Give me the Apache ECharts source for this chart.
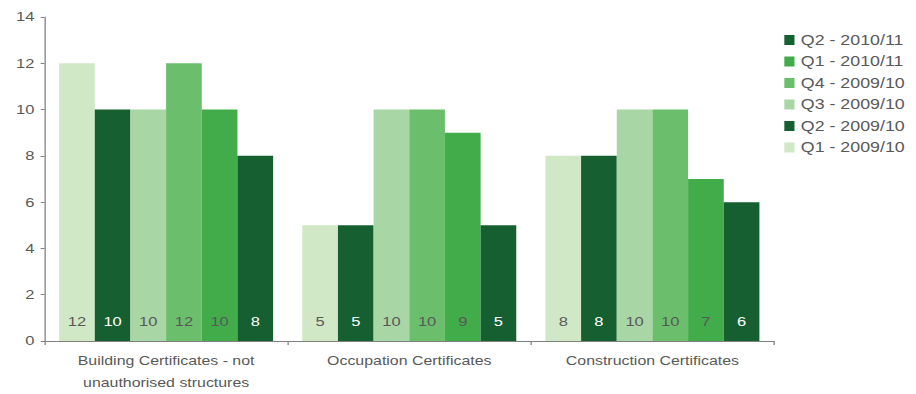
<!DOCTYPE html>
<html>
<head>
<meta charset="utf-8">
<style>
html,body{margin:0;padding:0;background:#fff;overflow:hidden}
/* chart is laid out on a 720px-wide stage and widened to the 916px page */
#chart{width:720px;height:394px;transform:scaleX(1.2722);transform-origin:0 0}
</style>
<script src="https://cdn.jsdelivr.net/npm/echarts@6/dist/echarts.min.js"></script>
</head>
<body>
<div id="chart"></div>
<script>
const categories = ['Building Certificates - not\nunauthorised structures', 'Occupation Certificates', 'Construction Certificates'];
const seriesNames = ['Q1 - 2009/10', 'Q2 - 2009/10', 'Q3 - 2009/10', 'Q4 - 2009/10', 'Q1 - 2010/11', 'Q2 - 2010/11'];
const q1_0910 = [12, 5, 8];
const q2_0910 = [10, 5, 8];
const q3_0910 = [10, 10, 10];
const q4_0910 = [12, 10, 10];
const q1_1011 = [10, 9, 7];
const q2_1011 = [8, 5, 6];
const yTicks = { min: 0, max: 14, interval: 2 };

const values = [q1_0910, q2_0910, q3_0910, q4_0910, q1_1011, q2_1011];
const colors = ['#d1e8c6', '#155f31', '#a8d6a5', '#6bbf6c', '#42ab4a', '#155f31'];
const labelColors = ['#595959', '#ffffff', '#595959', '#595959', '#595959', '#ffffff'];
const font = 'Liberation Sans, Arial, sans-serif';
const axisGrey = '#808080';

const chart = echarts.init(document.getElementById('chart'), null, { renderer: 'svg' });
chart.setOption({
  animation: false,
  grid: { left: 35, right: 111.6, top: 17, bottom: 53, containLabel: false },
  legend: {
    orient: 'vertical',
    left: 611.5,
    top: 28,
    itemWidth: 8,
    itemHeight: 10,
    itemGap: 7.5,
    icon: 'rect',
    data: seriesNames.slice().reverse(),
    textStyle: { fontFamily: font, fontSize: 14, lineHeight: 14, color: '#595959' }
  },
  xAxis: {
    type: 'category',
    data: categories,
    axisLine: { lineStyle: { color: axisGrey } },
    axisTick: { show: true, length: 4, lineStyle: { color: axisGrey } },
    axisLabel: { fontFamily: font, fontSize: 12.5, color: '#595959', margin: 9, lineHeight: 22 }
  },
  yAxis: {
    type: 'value',
    min: yTicks.min,
    max: yTicks.max,
    interval: yTicks.interval,
    splitLine: { show: false },
    axisLine: { show: true, lineStyle: { color: axisGrey } },
    axisTick: { show: true, length: 3, lineStyle: { color: axisGrey } },
    axisLabel: { fontFamily: font, fontSize: 13, color: '#595959', margin: 8 }
  },
  series: seriesNames.map((name, i) => ({
    name,
    type: 'bar',
    data: values[i],
    barGap: '0%',
    barCategoryGap: '12%',
    itemStyle: { color: colors[i] },
    label: {
      show: true,
      position: 'insideBottom',
      distance: 13,
      fontFamily: font,
      fontSize: 13,
      lineHeight: 13,
      color: labelColors[i]
    }
  }))
});
</script>
</body>
</html>
